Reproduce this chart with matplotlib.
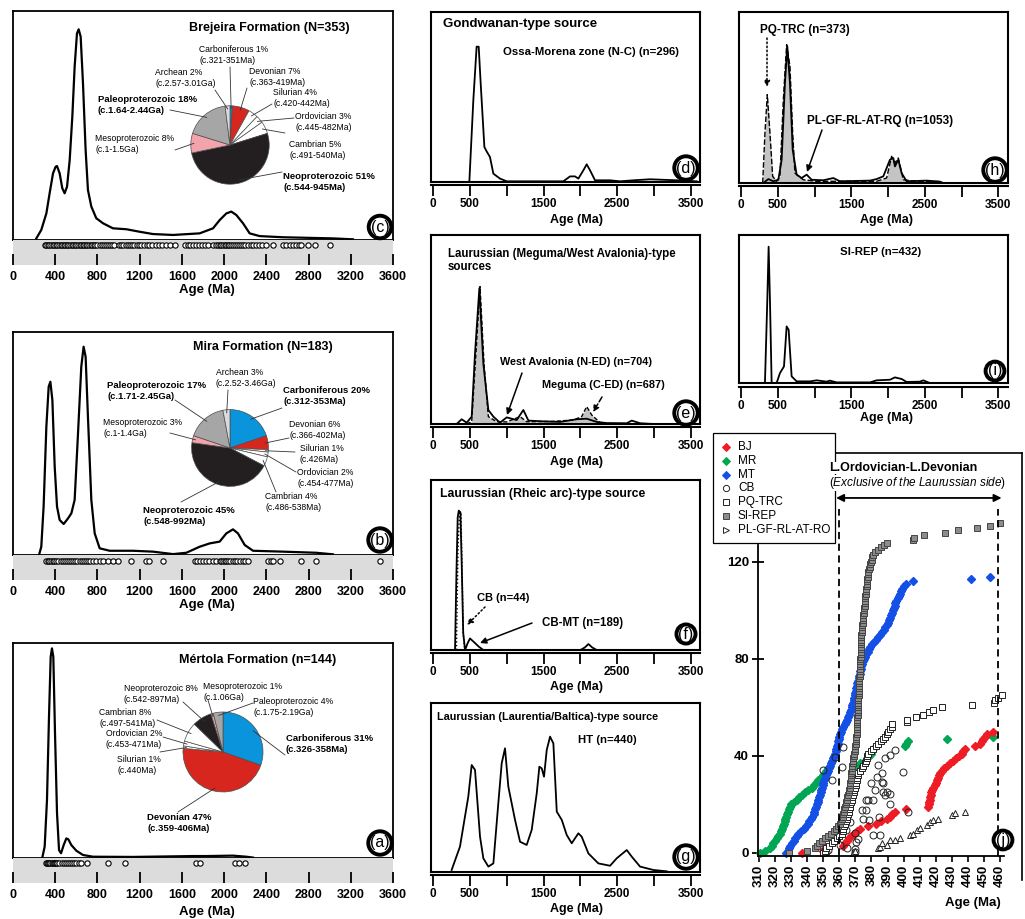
import numpy as np
import matplotlib
matplotlib.use('Agg')
import matplotlib.pyplot as plt
from matplotlib.lines import Line2D
from matplotlib.patches import Rectangle, FancyArrowPatch

plt.rcParams['font.family'] = ['Liberation Sans', 'DejaVu Sans']
plt.rcParams['mathtext.fontset'] = 'custom'
plt.rcParams['mathtext.it'] = 'Liberation Sans:italic'
plt.rcParams['mathtext.rm'] = 'Liberation Sans'

# ---------------- formation KDE curves (age Ma, relative density) ----------------
brejeira_age = [221, 268, 316, 347, 379, 404, 417, 442, 467, 489, 512, 537, 562, 584, 606, 622,
                641, 663, 688, 710, 742, 789, 853, 947, 1074, 1200, 1326, 1516, 1768, 1895,
                1958, 2021, 2068, 2116, 2179, 2242, 2337, 2558, 3031, 3221]
brejeira_dens = [.007, .044, .116, .204, .291, .320, .323, .291, .226, .204, .233, .349, .539, .757,
                 .902, .92, .888, .684, .393, .218, .146, .095, .073, .051, .047, .036, .026, .022,
                 .029, .051, .087, .116, .124, .109, .073, .029, .017, .012, .007, .003]
mira_age = [246, 268, 290, 316, 338, 354, 373, 395, 417, 442, 480, 521, 553, 584, 616, 647, 669,
            688, 710, 742, 774, 821, 916, 1137, 1326, 1516, 1642, 1768, 1863, 1958, 2021, 2084,
            2131, 2195, 2274, 2558, 2874, 3031]
mira_dens = [0, .037, .217, .575, .755, .777, .695, .396, .217, .157, .139, .164, .187, .247, .546,
             .845, .934, .889, .620, .247, .097, .030, .019, .019, .015, .004, .010, .037, .052,
             .060, .097, .115, .097, .045, .019, .015, .010, .003]
mertola_age = [278, 300, 322, 341, 357, 369, 382, 398, 417, 436, 455, 480, 505, 524, 553, 600,
               663, 758, 1137, 1705, 1831, 2084, 2210, 2274]
mertola_dens = [.003, .053, .27, .657, .936, .975, .936, .58, .208, .037, .022, .06, .091, .087,
                .06, .034, .014, .006, .005, .009, .009, .011, .006, .002]

# single-grain ages shown as circles under each curve
brejeira_grains = [300, 315, 330, 345, 360, 375, 390, 405, 420, 435, 450, 465, 480, 495, 510, 525,
                   540, 555, 570, 585, 600, 615, 630, 645, 660, 675, 690, 705, 720, 735, 750, 765,
                   780, 800, 820, 840, 860, 880, 900, 920, 940, 960, 1000, 1020, 1045, 1070, 1090,
                   1110, 1130, 1150, 1170, 1190, 1215, 1240, 1265, 1290, 1320, 1350, 1380, 1415,
                   1450, 1485, 1530, 1630, 1655, 1680, 1705, 1730, 1760, 1790, 1820, 1850, 1895,
                   1925, 1945, 1960, 1975, 1990, 2005, 2020, 2035, 2050, 2065, 2080, 2100, 2120,
                   2140, 2160, 2180, 2200, 2225, 2250, 2275, 2300, 2330, 2360, 2400, 2460, 2560,
                   2590, 2620, 2650, 2680, 2710, 2730, 2795, 2858, 3000]
mira_grains = [316, 330, 345, 360, 375, 390, 410, 430, 450, 470, 490, 510, 530, 550, 570, 590, 610,
               630, 650, 670, 690, 710, 730, 760, 790, 820, 853, 900, 947, 995, 1121, 1263, 1290,
               1421, 1721, 1745, 1770, 1800, 1830, 1860, 1890, 1926, 1958, 1975, 1990, 2005, 2020,
               2040, 2060, 2080, 2100, 2125, 2150, 2175, 2200, 2226, 2416, 2440, 2463, 2526, 2731,
               2873, 3473]
mertola_grains = [316, 325, 335, 345, 355, 365, 375, 385, 395, 405, 420, 440, 460, 480, 500, 520,
                  540, 560, 580, 600, 625, 647, 701, 900, 1064, 1737, 1775, 2100, 2141, 2195]

# pie shares: Carboniferous, Devonian, Silurian, Ordovician, Cambrian,
# Neoproterozoic, Mesoproterozoic, Paleoproterozoic, Archean
brejeira_pct = [1, 7, 4, 3, 5, 51, 8, 18, 2]
mira_pct = [20, 6, 1, 2, 4, 45, 3, 17, 3]
mertola_pct = [31, 47, 1, 2, 8, 8, 1, 4]
period_colors = ['#0a94dc', '#d7261e', 'white', 'white', 'white', '#231f20', '#f2a3ac',
                 '#a6a6a6', '#dadada']

# ---------------- source-area curves ----------------
ossa_age = [493, 547, 592, 620, 647, 697, 728, 773, 819, 909, 1000, 1768, 1859, 1927, 1972, 2040,
            2085, 2130, 2198, 2402, 2537, 2718, 2944, 3306, 3577]
ossa_dens = [0, .48, .796, .796, .58, .206, .18, .147, .049, .02, .004, .004, .033, .033, .02,
             .069, .104, .069, .01, .01, .004, .01, .016, .01, .004]
avalonia_age = [321, 389, 457, 525, 570, 629, 683, 751, 819, 909, 1000, 1135, 1226, 1294, 1497,
                1723, 1949, 2085, 2221, 2356, 2628, 2696, 2809, 2990]
avalonia_dens = [0, .025, .007, .039, .374, .718, .32, .074, .039, .007, .035, .021, .074, .018,
                 .014, .011, .025, .028, .011, .005, .004, .018, .004, 0]
meguma_age = [457, 525, 583, 638, 692, 751, 864, 1000, 1181, 1271, 1633, 1904, 2017, 2085, 2153,
              2266, 2356]
meguma_dens = [0, .012, .374, .727, .32, .039, .012, .011, .039, .012, .014, .021, .039, .092,
               .048, .007, 0]
cbmt_age = [299, 318, 335, 350, 372, 390, 410, 435, 470, 502, 560, 620, 683, 2000, 2060, 2108,
            2160, 2221]
cbmt_dens = [0, .45, .78, .82, .81, .5, .1, 0, .04, .068, .045, .02, 0, 0, .015, .035, .015, 0]
cb_age = [318, 340, 360, 380, 395, 410, 430]
cb_dens = [0, .6, .81, .8, .45, .1, 0]
ht_age = [253, 366, 479, 525, 570, 638, 683, 751, 819, 886, 932, 977, 1022, 1113, 1181, 1271,
          1339, 1407, 1443, 1475, 1506, 1543, 1588, 1633, 1679, 1747, 1814, 1882, 1972, 2017,
          2108, 2243, 2402, 2492, 2628, 2696, 2809, 2990, 3170]
ht_dens = [.012, .15, .446, .633, .604, .209, .081, .032, .051, .406, .643, .732, .505, .308,
           .179, .16, .249, .465, .623, .613, .564, .722, .801, .761, .357, .308, .219, .17, .229,
           .209, .11, .051, .037, .081, .13, .091, .032, .012, .004]
plgf_age = [304, 372, 440, 508, 553, 598, 630, 666, 703, 757, 825, 893, 961, 1120, 1256, 1346,
            1754, 1845, 1936, 2026, 2072, 2094, 2140, 2185, 2253, 2525, 2706, 2752]
plgf_dens = [0, .023, .01, .019, .136, .585, .8, .585, .195, .049, .029, .049, .019, .016, .029,
             .01, .014, .023, .039, .136, .146, .097, .136, .058, .01, .014, .008, 0]
pqtrc_age = [295, 326, 358, 394, 431, 485, 530, 576, 621, 666, 703, 734, 848, 1029, 1845, 1981,
             2049, 2094, 2140, 2208, 2389, 2706]
pqtrc_dens = [0, .292, .517, .292, .039, .01, .039, .487, .809, .682, .292, .058, .019, .01, .01,
              .029, .156, .117, .146, .019, .01, .008]
sirep_age = [326, 358, 376, 394, 417, 485, 530, 585, 621, 648, 689, 757, 938, 1029, 1165, 1210,
             1301, 1754, 1845, 2026, 2094, 2185, 2253, 2434, 2480, 2548]
sirep_dens = [0, .562, .921, .562, 0, 0, .067, .112, .382, .36, .045, .011, .011, .018, .009,
              .016, .004, .004, .018, .022, .038, .027, .007, .009, .018, .004]

# ---------------- youngest-grain ranking (panel j), ages in Ma ----------------
bj_ages = [337.0, 350.0, 351.0, 362.0, 363.5, 364.5, 366.0, 367.5, 369.3, 371.0,
           373.0, 378.0, 383.0, 386.0, 389.5, 391.5, 392.6, 394.5, 401.5, 415.5,
           415.8, 416.0, 416.3, 416.5, 416.8, 417.0, 417.8, 418.6, 419.3, 419.9,
           420.6, 421.3, 421.9, 422.6, 424.0, 425.4, 426.8, 428.9, 431.0, 432.7,
           434.5, 436.2, 437.2, 438.2, 444.4, 447.5, 448.5, 449.6, 450.6, 451.7, 455.8]
mr_ages = [310.6, 314.0, 316.8, 317.9, 318.9, 320.0, 321.0, 322.0, 323.0, 323.7,
           324.3, 325.0, 325.5, 326.0, 326.5, 327.0, 327.5, 328.0, 328.5, 329.3,
           330.0, 331.8, 333.5, 335.2, 336.9, 338.6, 340.8, 343.0, 344.5, 345.7,
           346.9, 348.3, 349.6, 351.0, 352.0, 353.0, 369.7, 372.9, 376.0, 377.3,
           378.5, 379.5, 380.5, 381.2, 400.8, 401.5, 403.0, 427.0, 455.5]
mt_ages = [327.0, 327.8, 328.7, 329.5, 330.5, 331.5, 332.5, 333.5, 334.5, 336.0,
           337.8, 339.5, 340.4, 341.3, 342.2, 343.1, 344.0, 344.5, 345.0, 345.5,
           346.0, 346.5, 347.0, 347.5, 347.9, 348.4, 348.8, 349.2, 349.7, 350.1,
           350.6, 351.0, 351.7, 352.3, 353.0, 353.7, 354.3, 355.0, 355.7, 356.3,
           357.0, 357.4, 357.8, 358.2, 358.6, 358.9, 359.3, 359.7, 360.1, 360.5,
           361.2, 361.9, 362.6, 363.3, 364.0, 364.7, 365.4, 366.1, 366.8, 367.5,
           367.9, 368.2, 368.6, 368.9, 369.3, 369.6, 370.0, 370.3, 370.7, 371.0,
           371.3, 371.7, 372.0, 372.3, 372.7, 373.0, 373.3, 373.7, 374.0, 374.7,
           375.4, 376.1, 376.9, 377.6, 378.3, 379.0, 380.3, 381.7, 383.0, 384.3,
           385.5, 386.8, 388.0, 388.7, 389.4, 390.1, 390.8, 391.5, 392.1, 392.6,
           393.2, 393.8, 394.4, 394.9, 395.5, 396.3, 397.0, 397.8, 398.5, 399.3,
           400.0, 401.5, 406.0, 442.0, 454.0]
cb_grain_age = [350.0, 352.0, 353.1, 355.2, 357.3, 360.3, 361.5, 362.5, 364.4, 364.6, 366.6,
                369.6, 369.7, 369.7, 370.7, 371.7, 373.9, 374.8, 376.9, 376.9, 378.5, 378.0,
                380.0, 381.0, 381.2, 382.2, 383.2, 384.3, 385.0, 385.3, 386.4, 386.4, 387.4,
                387.4, 388.4, 388.4, 389.5, 391.5, 391.5, 391.5, 394.6, 399.8, 403.0]
cb_grain_n = [34.2, 0.5, 1.2, 30.1, 39.7, 3.2, 35.6, 43.8, 9.3, 1.9, 12.9,
              1.8, 8.1, 0.5, 4.5, 5.9, 17.7, 14.2, 21.7, 17.6, 13.6, 21.9,
              28.7, 7.3, 21.9, 26.0, 31.4, 36.3, 14.9, 7.4, 29.4, 32.8, 25.2,
              28.7, 39.0, 23.9, 25.2, 24.5, 20.4, 40.4, 42.5, 33.5, 17.0]
pq_ages = [350.0, 351.0, 352.0, 353.6, 355.2, 356.8, 358.3, 359.9, 361.5, 362.0,
           362.6, 363.1, 363.6, 364.1, 364.6, 365.0, 365.4, 365.8, 366.2, 366.5,
           366.9, 367.3, 367.7, 368.1, 368.5, 368.9, 369.3, 369.7, 370.1, 370.4,
           370.8, 371.1, 371.5, 371.8, 372.8, 373.9, 374.9, 375.9, 376.4, 377.0,
           377.5, 378.0, 379.6, 381.2, 382.7, 384.3, 385.9, 387.4, 388.5, 389.5,
           390.5, 391.5, 392.6, 392.8, 402.0, 402.2, 407.8, 412.0, 416.0, 418.6,
           423.8, 442.5, 456.0, 457.0, 459.0, 461.0]
si_ages = [329.0, 340.0, 344.8, 346.2, 347.6, 349.0, 351.0, 353.0, 355.0, 357.0,
           358.2, 359.3, 360.5, 361.0, 361.5, 362.0, 362.5, 362.9, 363.2, 363.6,
           363.9, 364.3, 364.6, 365.0, 365.4, 365.8, 366.2, 366.6, 366.7, 366.9,
           367.0, 367.1, 367.3, 367.4, 367.6, 367.7, 368.0, 368.3, 368.6, 368.8,
           369.1, 369.4, 369.7, 369.9, 370.0, 370.2, 370.3, 370.5, 370.6, 370.8,
           370.9, 370.9, 371.0, 371.1, 371.1, 371.2, 371.3, 371.4, 371.4, 371.5,
           371.6, 371.6, 371.7, 371.8, 371.9, 372.0, 372.0, 372.1, 372.2, 372.3,
           372.3, 372.4, 372.5, 372.6, 372.7, 372.7, 372.8, 372.9, 373.0, 373.0,
           373.1, 373.2, 373.2, 373.3, 373.4, 373.5, 373.5, 373.6, 373.7, 373.7,
           373.8, 373.9, 374.1, 374.2, 374.4, 374.5, 374.7, 374.9, 375.0, 375.2,
           375.4, 375.5, 375.7, 375.8, 376.0, 376.2, 376.3, 376.5, 376.7, 376.8,
           377.0, 377.2, 377.3, 377.5, 377.7, 377.8, 378.0, 378.4, 378.9, 379.3,
           379.7, 380.1, 380.6, 381.0, 382.5, 384.0, 385.8, 387.6, 389.4, 406.0,
           406.4, 413.0, 426.0, 434.0, 446.0, 453.5, 460.0]
pl_ages = [368.6, 369.5, 384.3, 385.2, 389.5, 386.4, 391.5, 394.6, 397.7, 403.9, 406.0, 408.1,
           410.2, 414.4, 416.4, 418.5, 421.6, 429.9, 432.0, 438.2]
pl_n = [0.2, 1.0, 1.9, 2.5, 3.3, 4.0, 5.4, 5.4, 6.0, 7.4, 8.0, 9.5, 10.1, 11.5, 12.9, 13.6,
        14.2, 15.7, 16.3, 17.0]

W, H = 1025, 919
fig = plt.figure(figsize=(W / 100, H / 100), dpi=100)


def box(x0, y0, x1, y1):
    # pixel rectangle (top-left origin) -> figure fraction rect
    return [x0 / W, 1 - y1 / H, (x1 - x0) / W, (y1 - y0) / H]


def fpt(x, y):
    return (x / W, 1 - y / H)


def ftext(x, y, s, size=8, bold=True, ha='left', va='center', **kw):
    fig.text(x / W, 1 - y / H, s, fontsize=size, fontweight='bold' if bold else 'normal',
             ha=ha, va=va, **kw)


def letter(x, y, s):
    fig.text(x / W, 1 - y / H, '(' + s + ')', fontsize=11.5, ha='center', va='center', zorder=10,
             bbox=dict(boxstyle='circle,pad=0.12', fc='white', ec='k', lw=2.8))


def arrow(p0, p1, ls='-'):
    fig.add_artist(FancyArrowPatch(fpt(*p0), fpt(*p1), transform=fig.transFigure,
                                   arrowstyle='-|>', mutation_scale=9, lw=1.1, linestyle=ls,
                                   color='k', shrinkA=0, shrinkB=0))


def formation(frame, strip, age, dens, grains, grain_y):
    ax = fig.add_axes(box(*frame))
    ax.plot(age, dens, color='k', lw=1.6)
    ax.set_xlim(0, 3600)
    ax.set_ylim(0, 1)
    ax.set_xticks([])
    ax.set_yticks([])
    for s in ax.spines.values():
        s.set_linewidth(1.3)
    sx = fig.add_axes(box(*strip))
    sx.set_facecolor('#dcdcdc')
    sx.plot(grains, np.full(len(grains), grain_y), 'o', ms=3.8, mfc='white', mec='k', mew=0.8)
    sx.set_xlim(0, 3600)
    sx.set_ylim(0, 1)
    sx.set_yticks([])
    sx.set_xticks(range(0, 3601, 400))
    sx.set_xticklabels([str(v) for v in range(0, 3601, 400)], fontsize=9, fontweight='bold')
    sx.tick_params(axis='x', direction='in', length=8, width=1.3, pad=4)
    for s in sx.spines.values():
        s.set_visible(False)


def pie(center, r, pct, labels):
    cx, cy = center
    pax = fig.add_axes(box(cx - r, cy - r, cx + r, cy + r))
    wedges, _ = pax.pie(pct, colors=period_colors[:len(pct)], startangle=90, counterclock=False,
                        wedgeprops=dict(edgecolor='#4d4d4d', linewidth=0.5))
    for idx, s, bold, tx, ty, lx, ly in labels:
        w = wedges[idx]
        mid = np.deg2rad((w.theta1 + w.theta2) / 2)
        pax.annotate('', xy=(0.92 * np.cos(mid), 0.92 * np.sin(mid)), xycoords='data',
                     xytext=fpt(lx, ly), textcoords='figure fraction', annotation_clip=False,
                     arrowprops=dict(arrowstyle='-', lw=0.6, color='#333333',
                                     shrinkA=0, shrinkB=0))
        ftext(tx, ty, s, size=6.8 if bold else 6.2, bold=bold, linespacing=1.25)


def source(frame, xlim, shift=3):
    ax = fig.add_axes(box(*frame))
    ax.set_xlim(*xlim)
    ax.set_ylim(0, 1)
    ax.set_xticks([])
    ax.set_yticks([])
    for s in ax.spines.values():
        s.set_linewidth(1.5)
    sec = ax.secondary_xaxis(-shift / (frame[3] - frame[1]))
    sec.set_xticks(range(0, 3501, 500))
    sec.set_xticklabels(['0', '500', '', '1500', '', '2500', '', '3500'],
                        fontsize=8.5, fontweight='bold')
    sec.tick_params(direction='out', length=8, width=1.3, pad=1.5)
    sec.spines['bottom'].set_linewidth(1.5)
    return ax


# ---------------- panels c, b, a ----------------
formation((13, 11, 393, 240), (13, 240, 393, 265), brejeira_age, brejeira_dens,
          brejeira_grains, 0.8)
ftext(269, 28, 'Brejeira Formation (N=353)', size=9, ha='center')
pie((230, 145), 49, brejeira_pct, [
    (0, 'Carboniferous 1%\n(c.321-351Ma)', False, 199, 55, 230, 67),
    (1, 'Devonian 7%\n(c.363-419Ma)', False, 249, 77, 247, 88),
    (2, 'Silurian 4%\n(c.420-442Ma)', False, 273, 98, 272, 104),
    (3, 'Ordovician 3%\n(c.445-482Ma)', False, 295, 122, 294, 118),
    (4, 'Cambrian 5%\n(c.491-540Ma)', False, 289, 150, 285, 133),
    (5, 'Neoproterozoic 51%\n(c.544-945Ma)', True, 283, 182, 282, 172),
    (6, 'Mesoproterozoic 8%\n(c.1-1.5Ga)', False, 95, 144, 175, 150),
    (7, 'Paleoproterozoic 18%\n(c.1.64-2.44Ga)', True, 98, 105, 170, 110),
    (8, 'Archean 2%\n(c.2.57-3.01Ga)', False, 155, 78, 215, 90),
])
ftext(207, 290, 'Age (Ma)', size=9.5, ha='center')
letter(380, 227, 'c')

formation((13, 332, 393, 555), (13, 555, 393, 580), mira_age, mira_dens, mira_grains, 0.75)
ftext(263, 347, 'Mira Formation (N=183)', size=9, ha='center')
pie((230, 448), 48, mira_pct, [
    (8, 'Archean 3%\n(c.2.52-3.46Ga)', False, 216, 378, 228, 390),
    (7, 'Paleoproterozoic 17%\n(c.1.71-2.45Ga)', True, 107, 391, 175, 400),
    (0, 'Carboniferous 20%\n(c.312-353Ma)', True, 283, 396, 282, 408),
    (6, 'Mesoproterozoic 3%\n(c.1-1.4Ga)', False, 103, 428, 170, 433),
    (1, 'Devonian 6%\n(c.366-402Ma)', False, 289, 430, 289, 438),
    (2, 'Silurian 1%\n(c.426Ma)', False, 300, 454, 295, 452),
    (3, 'Ordovician 2%\n(c.454-477Ma)', False, 297, 478, 296, 472),
    (4, 'Cambrian 4%\n(c.486-538Ma)', False, 265, 502, 276, 492),
    (5, 'Neoproterozoic 45%\n(c.548-992Ma)', True, 143, 516, 181, 502),
])
ftext(207, 605, 'Age (Ma)', size=9.5, ha='center')
letter(380, 540, 'b')

formation((13, 643, 393, 858), (13, 858, 393, 883), mertola_age, mertola_dens,
          mertola_grains, 0.8)
ftext(258, 660, 'Mértola Formation (n=144)', size=9, ha='center')
pie((223, 752), 50, mertola_pct, [
    (5, 'Neoproterozoic 8%\n(c.542-897Ma)', False, 124, 694, 183, 702),
    (6, 'Mesoproterozoic 1%\n(c.1.06Ga)', False, 203, 692, 208, 700),
    (7, 'Paleoproterozoic 4%\n(c.1.75-2.19Ga)', False, 253, 707, 253, 703),
    (4, 'Cambrian 8%\n(c.497-541Ma)', False, 99, 718, 157, 720),
    (3, 'Ordovician 2%\n(c.453-471Ma)', False, 106, 739, 163, 737),
    (0, 'Carboniferous 31%\n(c.326-358Ma)', True, 286, 744, 285, 755),
    (2, 'Silurian 1%\n(c.440Ma)', False, 117, 765, 160, 752),
    (1, 'Devonian 47%\n(c.359-406Ma)', True, 147, 823, 178, 812),
])
ftext(207, 912, 'Age (Ma)', size=9.5, ha='center')
letter(380, 843, 'a')

# ---------------- panels d-g ----------------
mid_lim = (-27, 3622)
ax_d = source((431, 12, 700, 182), mid_lim)
ax_d.plot(ossa_age, ossa_dens, color='k', lw=1.3)
ftext(443, 24, 'Gondwanan-type source', size=9.5)
ftext(503, 52, 'Ossa-Morena zone (N-C) (n=296)', size=8.2)
ftext(577, 220, 'Age (Ma)', size=9, ha='center')
letter(686, 168, 'd')

ax_e = source((431, 235, 700, 424), mid_lim)
ax_e.fill_between(meguma_age, meguma_dens, color='#c4c4c4', lw=0)
ax_e.plot(meguma_age, meguma_dens, color='k', lw=1.0, ls=(0, (3, 1.5)))
ax_e.plot(avalonia_age, avalonia_dens, color='k', lw=1.3)
ftext(448, 260.5, 'Laurussian (Meguma/West Avalonia)-type\nsources', size=8.3, linespacing=1.2)
ftext(500, 362, 'West Avalonia (N-ED) (n=704)', size=7.8)
ftext(542, 385, 'Meguma (C-ED) (n=687)', size=7.8)
arrow((522, 373), (507, 415))
arrow((602, 397), (593, 412), ls='--')
ftext(577, 462, 'Age (Ma)', size=9, ha='center')
letter(686, 413, 'e')

ax_f = source((431, 480, 700, 650), mid_lim)
ax_f.plot(cbmt_age, cbmt_dens, color='k', lw=1.3)
ax_f.plot(cb_age, cb_dens, color='k', lw=1.0, ls=':')
ftext(440, 494, 'Laurussian (Rheic arc)-type source', size=8.8)
ftext(477, 598, 'CB (n=44)', size=8)
ftext(542, 623, 'CB-MT (n=189)', size=8.3)
arrow((485, 607), (467, 625), ls=':')
arrow((532, 623), (480, 643))
ftext(577, 687, 'Age (Ma)', size=9, ha='center')
letter(686, 634, 'f')

ax_g = source((431, 703, 700, 872), mid_lim)
ax_g.plot(ht_age, ht_dens, color='k', lw=1.3)
ftext(437, 717, 'Laurussian (Laurentia/Baltica)-type source', size=7.8)
ftext(578, 740, 'HT (n=440)', size=8.2)
ftext(577, 909, 'Age (Ma)', size=9, ha='center')
letter(686, 857, 'g')

# ---------------- panels h, i ----------------
right_lim = (-27, 3632)
ax_h = source((739, 12, 1008, 183), right_lim)
ax_h.fill_between(pqtrc_age, pqtrc_dens, color='#c4c4c4', lw=0)
ax_h.plot(pqtrc_age, pqtrc_dens, color='k', lw=1.0, ls=(0, (4, 1.5)))
ax_h.plot(plgf_age, plgf_dens, color='k', lw=1.3)
ftext(760, 30, 'PQ-TRC (n=373)', size=8.5)
ftext(807, 121, 'PL-GF-RL-AT-RQ (n=1053)', size=8.5)
arrow((767, 38), (767, 87), ls=':')
arrow((822, 130), (807, 172))
ftext(886, 220, 'Age (Ma)', size=9, ha='center')
letter(995, 170, 'h')

ax_i = source((739, 235, 1008, 383), right_lim, shift=4)
ax_i.plot(sirep_age, sirep_dens, color='k', lw=1.3)
ftext(840, 252, 'SI-REP (n=432)', size=8.2)
ftext(886, 418, 'Age (Ma)', size=9, ha='center')
letter(995, 371, 'i')

# ---------------- panel j ----------------
red, green, blue = '#ee1c24', '#00a651', '#1450e6'
ax_j = fig.add_axes(box(758, 545, 1004, 856))
ax_j.set_xlim(309.4, 462.5)
ax_j.set_ylim(-1.24, 127)
ax_j.plot(mr_ages, np.arange(len(mr_ages)), 'D', ms=3.6, color=green, clip_on=False)
ax_j.plot(mt_ages, np.arange(len(mt_ages)), 'D', ms=3.6, color=blue, clip_on=False)
ax_j.plot(bj_ages, np.arange(len(bj_ages)), 'D', ms=3.6, color=red, clip_on=False)
ax_j.plot(cb_grain_age, cb_grain_n, 'o', ms=5, mfc='none', mec='#222222', mew=0.7,
          clip_on=False)
ax_j.plot(pq_ages, np.arange(len(pq_ages)), 's', ms=5, mfc='white', mec='#222222', mew=0.7,
          clip_on=False)
ax_j.plot(pl_ages, pl_n, '^', ms=5, mfc='white', mec='#222222', mew=0.7, clip_on=False)
ax_j.plot(si_ages, np.arange(len(si_ages)), 's', ms=5, mfc='#8c8c8c', mec='#444444', mew=0.7,
          clip_on=False)
for s in ('top', 'right'):
    ax_j.spines[s].set_visible(False)
for s in ('left', 'bottom'):
    ax_j.spines[s].set_linewidth(1.3)
ax_j.set_yticks([0, 40, 80, 120])
ax_j.set_yticklabels(['0', '40', '80', '120'], fontsize=9.5, fontweight='bold')
ax_j.tick_params(axis='y', direction='inout', length=9, width=1.3, pad=2)
ax_j.set_xticks(range(310, 461, 10))
ax_j.set_xticklabels([str(v) for v in range(310, 461, 10)], rotation=90, fontsize=9.5,
                     fontweight='bold')
ax_j.tick_params(axis='x', direction='out', length=4, width=1.2, pad=2)
for xv in (360, 459):
    ax_j.plot([xv, xv], [-1.24, 142], color='k', lw=1.3, ls=(0, (4, 2.5)), clip_on=False)
ax_j.annotate('', xy=(461, 146.4), xytext=(358, 146.4), annotation_clip=False,
              arrowprops=dict(arrowstyle='<|-|>', lw=1.3, color='k', mutation_scale=11,
                              shrinkA=0, shrinkB=0))
ftext(973, 903, 'Age (Ma)', size=9.5, ha='center')

# outer frame of panel j
fig.add_artist(Line2D([835 / W, 1022 / W], [1 - 453 / H, 1 - 453 / H], color='k', lw=1.2))
fig.add_artist(Line2D([1022 / W, 1022 / W], [1 - 453 / H, 1 - 880 / H], color='k', lw=1.2))

# legend for panel j
fig.add_artist(Rectangle(fpt(713, 543), 122 / W, 110 / H, transform=fig.transFigure,
                         fc='white', ec='k', lw=0.9, zorder=5))
legend_rows = [('BJ', 'D', red, red), ('MR', 'D', green, green), ('MT', 'D', blue, blue),
               ('CB', 'o', 'none', '#222222'), ('PQ-TRC', 's', 'white', '#222222'),
               ('SI-REP', 's', '#8c8c8c', '#444444'), ('PL-GF-RL-AT-RO', '>', 'white', '#222222')]
for k, (name, mk, fc, ec) in enumerate(legend_rows):
    y = 447 + k * 13.8
    fig.add_artist(Line2D([726 / W], [1 - y / H], marker=mk, ms=4.5 if mk != 'D' else 3.8,
                          mfc=fc, mec=ec, mew=0.7, ls='none', zorder=6))
    fig.text(738 / W, 1 - y / H, name, fontsize=8.5, va='center', ha='left', zorder=6)

ftext(829, 468, 'L.Ordovician-L.Devonian', size=9, zorder=7,
      bbox=dict(fc='white', ec='none', pad=0.3))
ftext(829, 483, r'($\mathit{Exclusive\ of\ the\ Laurussian\ side}$)', size=8.5, bold=False,
      zorder=7, bbox=dict(fc='white', ec='none', pad=0.3))
letter(1003, 840, 'j')

fig.savefig('out.png', dpi=100)
